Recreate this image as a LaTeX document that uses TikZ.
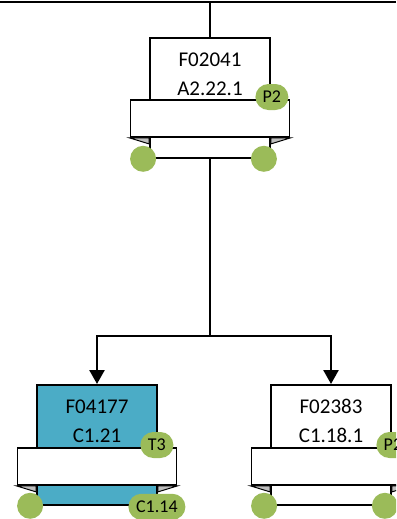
\documentclass[tikz,border=0pt]{standalone}
\usepackage{fontspec}
\setmainfont{Carlito}
\usetikzlibrary{arrows.meta, positioning, calc}
\definecolor{funcgreen}{HTML}{9BBB59}
\definecolor{functeal}{HTML}{4BACC6}
\definecolor{foldgray}{HTML}{BFBFBF}

\begin{document}
\begin{tikzpicture}[
          x=1pt, y=-1pt,
          funcbox/.style={rectangle, draw=black, line width=1.8pt, fill=white, minimum width=120pt, minimum height=120pt, inner sep=0pt, anchor=north},
          bandbox/.style={rectangle, draw=black, line width=1.8pt, fill=white, minimum width=159pt, minimum height=37pt, inner sep=0pt},
          foldtip/.style={fill=foldgray, draw=black, line width=1pt},
          portdot/.style={circle, fill=funcgreen, minimum size=26pt, inner sep=0pt},
          tagpill/.style={rectangle, fill=funcgreen, rounded corners=13pt, minimum width=33pt, minimum height=26pt, inner sep=0pt, font=\fontsize{18}{18}\selectfont},
          funclabel/.style={align=center, font=\fontsize{21}{29}\selectfont},
          wire/.style={line width=2.5pt},
          flow/.style={line width=2.5pt, -{Triangle[width=15pt,length=14pt]}}
        ]
          \useasboundingbox (0,0) rectangle (396,519);
          \clip (0,0) rectangle (396,519);

          % Top function: F02041
          \node[funcbox] (f1) at (210,37) {};
          \node[funclabel] at (f1.north) [yshift=-37pt] {F02041\\A2.22.1};
          \node[bandbox] (f1band) at (f1.north) [yshift=-81.5pt] {};
          \filldraw[foldtip] (f1band.south west) -- (f1band.south west -| f1.west) -- ++(0,6) -- cycle;
          \filldraw[foldtip] (f1band.south east) -- (f1band.south east -| f1.east) -- ++(0,6) -- cycle;
          \node[portdot] (f1inL) at (f1.south west) [xshift=-6pt] {};
          \node[portdot] (f1inR) at (f1.south east) [xshift=-7pt] {};
          \node[tagpill] (f1tag) at (f1.north east) [xshift=1pt, yshift=-60pt] {P2};

          % Left child: F04177 (highlighted)
          \node[funcbox, fill=functeal] (f2) at (97,384) {};
          \node[funclabel] at (f2.north) [yshift=-37pt] {F04177\\C1.21};
          \node[bandbox] (f2band) at (f2.north) [yshift=-82.5pt] {};
          \filldraw[foldtip] (f2band.south west) -- (f2band.south west -| f2.west) -- ++(0,6) -- cycle;
          \filldraw[foldtip] (f2band.south east) -- (f2band.south east -| f2.east) -- ++(0,6) -- cycle;
          \node[portdot] (f2inL) at (f2.south west) [xshift=-6pt] {};
          \node[tagpill] (f2tag) at (f2.north east) [xshift=-1pt, yshift=-61pt] {T3};
          \node[tagpill, minimum width=57pt] (f2out) at (f2.south east) [xshift=-1pt, yshift=-1pt] {C1.14};

          % Right child: F02383
          \node[funcbox] (f3) at (331,384) {};
          \node[funclabel] at (f3.north) [yshift=-37pt] {F02383\\C1.18.1};
          \node[bandbox] (f3band) at (f3.north) [yshift=-82.5pt] {};
          \filldraw[foldtip] (f3band.south west) -- (f3band.south west -| f3.west) -- ++(0,6) -- cycle;
          \filldraw[foldtip] (f3band.south east) -- (f3band.south east -| f3.east) -- ++(0,6) -- cycle;
          \node[portdot] (f3inL) at (f3.south west) [xshift=-6pt] {};
          \node[portdot] (f3inR) at (f3.south east) [xshift=-7pt] {};
          \node[tagpill] (f3tag) at (f3.north east) [xshift=1pt, yshift=-61pt] {P2};

          % Connectors
          \coordinate (busL) at (0,2);
          \coordinate (busR) at (396,2);
          \coordinate (split) at (210,336);
          \draw[wire] (busL) -- (busR);
          \draw[wire] (f1.north) -- (f1.north |- busL);
          \draw[wire] (f1.south) -- (split);
          \draw[flow] (split) -| (f2.north);
          \draw[flow] (split) -| (f3.north);
        \end{tikzpicture}
\end{document}
